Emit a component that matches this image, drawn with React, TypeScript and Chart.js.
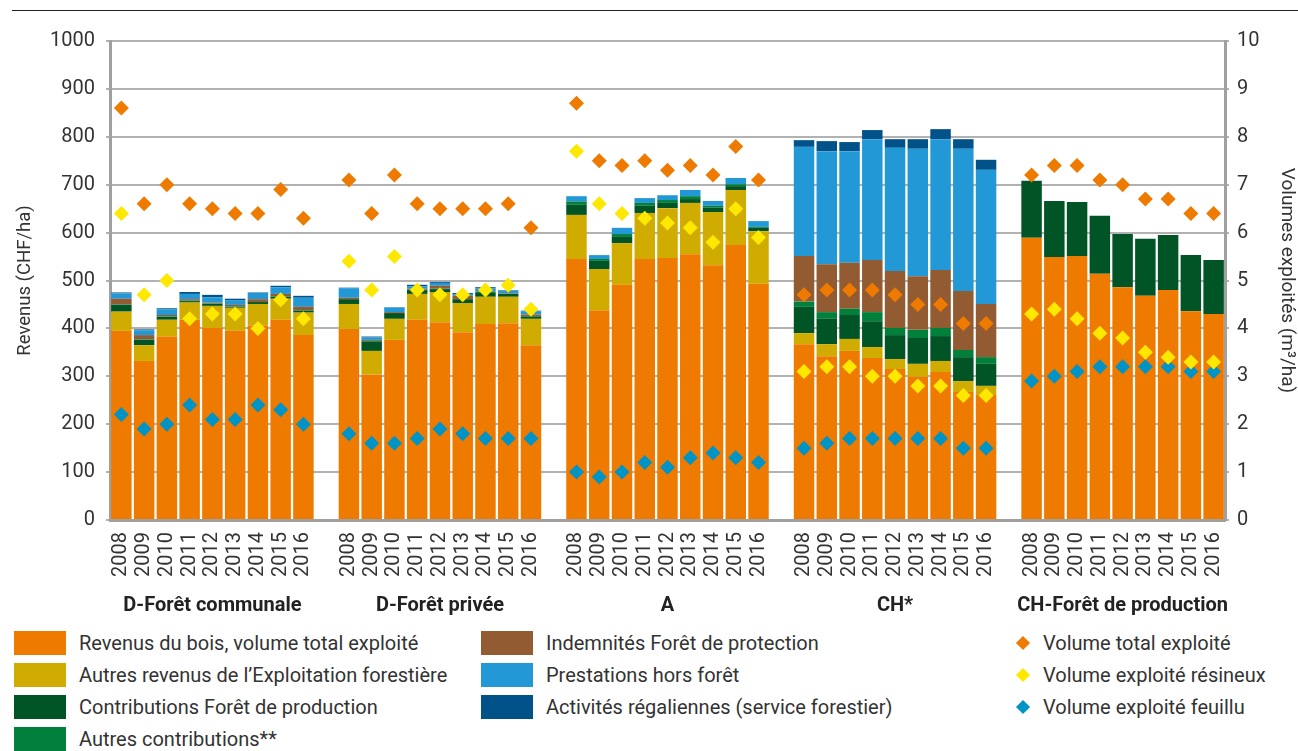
import React, { useEffect, useRef } from 'react';
import { Chart, registerables } from 'chart.js';
Chart.register(...registerables);

const groups = ['D-Forêt communale', 'D-Forêt privée', 'A', 'CH*', 'CH-Forêt de production'];
const years = ['2008', '2009', '2010', '2011', '2012', '2013', '2014', '2015', '2016'];

// Revenus (CHF/ha), 9 years per group, groups in order above
const woodRevenue = [
  395, 332, 383, 418, 401, 395, 406, 418, 386,
  399, 304, 376, 418, 413, 392, 409, 411, 365,
  545, 438, 491, 545, 547, 555, 532, 574, 493,
  367, 342, 353, 338, 315, 299, 309, 267, 261,
  589, 549, 551, 514, 486, 468, 480, 436, 430,
];
const otherRevenue = [
  40, 33, 35, 36, 46, 48, 45, 44, 47,
  52, 49, 44, 54, 63, 61, 57, 55, 55,
  92, 86, 87, 96, 104, 107, 111, 115, 110,
  23, 25, 25, 23, 21, 27, 23, 23, 19,
  0, 0, 0, 0, 0, 0, 0, 0, 0,
];
const productionContrib = [
  14, 11, 6, 3, 4, 2, 4, 4, 4,
  10, 19, 12, 8, 6, 8, 8, 6, 5,
  21, 17, 13, 15, 11, 8, 9, 8, 7,
  55, 53, 50, 54, 50, 54, 52, 50, 46,
  119, 117, 113, 121, 111, 119, 115, 117, 113,
];
const otherContrib = [
  1, 1, 1, 1, 1, 1, 0, 1, 1,
  0, 2, 0, 1, 1, 0, 2, 0, 1,
  7, 4, 6, 6, 6, 6, 4, 4, 2,
  11, 14, 13, 19, 15, 17, 17, 15, 14,
  0, 0, 0, 0, 0, 0, 0, 0, 0,
];
const protectionComp = [
  12, 9, 3, 3, 2, 3, 6, 5, 7,
  3, 2, 2, 2, 6, 7, 1, 1, 3,
  0, 0, 0, 0, 0, 0, 0, 0, 0,
  95, 100, 96, 109, 119, 112, 121, 123, 111,
  0, 0, 0, 0, 0, 0, 0, 0, 0,
];
const outsideServices = [
  11, 10, 12, 11, 11, 10, 13, 14, 19,
  20, 5, 9, 5, 6, 4, 7, 6, 7,
  11, 8, 13, 10, 10, 13, 10, 13, 12,
  228, 236, 233, 252, 257, 266, 273, 297, 280,
  0, 0, 0, 0, 0, 0, 0, 0, 0,
];
const sovereignActivities = [
  2, 2, 2, 4, 5, 3, 1, 3, 4,
  1, 2, 1, 3, 2, 2, 2, 1, 1,
  0, 0, 0, 0, 0, 0, 0, 0, 0,
  14, 21, 19, 19, 18, 20, 21, 20, 21,
  0, 0, 0, 0, 0, 0, 0, 0, 0,
];

// Volumes exploités (m3/ha)
const totalVolume = [
  8.6, 6.6, 7.0, 6.6, 6.5, 6.4, 6.4, 6.9, 6.3,
  7.1, 6.4, 7.2, 6.6, 6.5, 6.5, 6.5, 6.6, 6.1,
  8.7, 7.5, 7.4, 7.5, 7.3, 7.4, 7.2, 7.8, 7.1,
  4.7, 4.8, 4.8, 4.8, 4.7, 4.5, 4.5, 4.1, 4.1,
  7.2, 7.4, 7.4, 7.1, 7.0, 6.7, 6.7, 6.4, 6.4,
];
const softwoodVolume = [
  6.4, 4.7, 5.0, 4.2, 4.3, 4.3, 4.0, 4.6, 4.2,
  5.4, 4.8, 5.5, 4.8, 4.7, 4.7, 4.8, 4.9, 4.4,
  7.7, 6.6, 6.4, 6.3, 6.2, 6.1, 5.8, 6.5, 5.9,
  3.1, 3.2, 3.2, 3.0, 3.0, 2.8, 2.8, 2.6, 2.6,
  4.3, 4.4, 4.2, 3.9, 3.8, 3.5, 3.4, 3.3, 3.3,
];
const hardwoodVolume = [
  2.2, 1.9, 2.0, 2.4, 2.1, 2.1, 2.4, 2.3, 2.0,
  1.8, 1.6, 1.6, 1.7, 1.9, 1.8, 1.7, 1.7, 1.7,
  1.0, 0.9, 1.0, 1.2, 1.1, 1.3, 1.4, 1.3, 1.2,
  1.5, 1.6, 1.7, 1.7, 1.7, 1.7, 1.7, 1.5, 1.5,
  2.9, 3.0, 3.1, 3.2, 3.2, 3.2, 3.2, 3.1, 3.1,
];

const FONT = 'Roboto, "Noto Sans", sans-serif';
const TEXT = '#333333';

const barSeries = [
  { label: 'Revenus du bois, volume total exploité', data: woodRevenue, color: '#EE7A00' },
  { label: 'Autres revenus de l’Exploitation forestière', data: otherRevenue, color: '#D1AC00' },
  { label: 'Contributions Forêt de production', data: productionContrib, color: '#005426' },
  { label: 'Autres contributions**', data: otherContrib, color: '#00803A' },
  { label: 'Indemnités Forêt de protection', data: protectionComp, color: '#935B32' },
  { label: 'Prestations hors forêt', data: outsideServices, color: '#2298D6' },
  { label: 'Activités régaliennes (service forestier)', data: sovereignActivities, color: '#005288' },
];
const pointSeries = [
  { label: 'Volume total exploité', data: totalVolume, color: '#EE7A00' },
  { label: 'Volume exploité résineux', data: softwoodVolume, color: '#FFE800' },
  { label: 'Volume exploité feuillu', data: hardwoodVolume, color: '#0093C5' },
];

// insert an empty category between groups
function withGaps<T>(arr: T[], gap: T): T[] {
  const out: T[] = [];
  groups.forEach((_, g) => {
    for (let i = 0; i < years.length; i++) out.push(arr[g * years.length + i]);
    if (g < groups.length - 1) out.push(gap);
  });
  return out;
}

const labels = withGaps(groups.flatMap(() => years), '');

const groupLabelPlugin = {
  id: 'groupLabels',
  afterDraw(chart: any) {
    const { ctx } = chart;
    const xs = chart.scales.x;
    ctx.save();
    ctx.font = `bold 20px ${FONT}`;
    ctx.fillStyle = '#222';
    ctx.textAlign = 'center';
    ctx.textBaseline = 'middle';
    groups.forEach((g, i) => {
      const idx = i * (years.length + 1) + (years.length - 1) / 2;
      ctx.fillText(g, xs.getPixelForValue(idx), 606);
    });
    ctx.restore();
  },
};

export default function App() {
  const ref = useRef<HTMLCanvasElement | null>(null);
  useEffect(() => {
    document.body.style.margin = '0';
    if (!ref.current) return;
    const datasets: any[] = [
      ...pointSeries.map((s) => ({
        type: 'line',
        label: s.label,
        data: withGaps(s.data as (number | null)[], null),
        yAxisID: 'y2',
        showLine: false,
        pointStyle: 'rectRot',
        pointRadius: 7.5,
        pointBorderWidth: 0,
        pointBackgroundColor: s.color,
        backgroundColor: s.color,
        borderColor: s.color,
        order: 1,
      })),
      ...barSeries.map((s) => ({
        type: 'bar',
        label: s.label,
        data: withGaps(s.data as (number | null)[], null),
        yAxisID: 'y',
        backgroundColor: s.color,
        borderWidth: 0,
        barPercentage: 0.9,
        categoryPercentage: 1,
        order: 2,
      })),
    ];
    const chart = new Chart(ref.current, {
      type: 'bar',
      data: { labels, datasets },
      plugins: [groupLabelPlugin],
      options: {
        animation: false,
        responsive: false,
        maintainAspectRatio: false,
        layout: { padding: { top: 41, left: 0, right: 0, bottom: 0 } },
        plugins: { legend: { display: false }, tooltip: { enabled: false } },
        scales: {
          x: {
            stacked: true,
            grid: { display: false },
            border: { display: true, color: '#a0a0a0', width: 3 },
            ticks: {
              autoSkip: false,
              minRotation: 90,
              maxRotation: 90,
              padding: 4,
              color: TEXT,
              font: { family: FONT, size: 20 },
            },
            afterFit: (s: any) => { s.height = 105; },
          },
          y: {
            stacked: true,
            min: 0,
            max: 1000,
            ticks: {
              stepSize: 100,
              color: TEXT,
              padding: 11,
              font: { family: FONT, size: 20 },
              callback: (v: any) => String(v),
            },
            grid: { color: '#b2b2b2', lineWidth: 2, tickLength: 4 },
            border: { color: '#a0a0a0', width: 3 },
            title: {
              display: true,
              text: 'Revenus (CHF/ha)',
              color: TEXT,
              font: { family: FONT, size: 18.5 },
              padding: { top: 14, bottom: 0 },
            },
            afterFit: (s: any) => { s.width = 110; },
          },
          y2: {
            position: 'right',
            min: 0,
            max: 10,
            ticks: {
              stepSize: 1,
              color: TEXT,
              padding: 8,
              font: { family: FONT, size: 20 },
              callback: (v: any) => String(v),
            },
            grid: { drawOnChartArea: false, color: '#b2b2b2', lineWidth: 2, tickLength: 4 },
            border: { color: '#a0a0a0', width: 3 },
            title: {
              display: true,
              text: 'Volumes exploités (m³/ha)',
              color: TEXT,
              font: { family: FONT, size: 19 },
              padding: { top: 0, bottom: 0 },
            },
            afterFit: (s: any) => { s.width = 73; },
          },
        },
      } as any,
    });
    return () => chart.destroy();
  }, []);

  const legendRow = (i: number) => 631 + i * 32;
  const swatch = (color: string) => (
    <span style={{ display: 'inline-block', width: 52, height: 24, background: color, marginRight: 13, flex: 'none' }} />
  );
  const diamond = (color: string) => (
    <span style={{ display: 'inline-block', width: 20, marginRight: 10, flex: 'none', position: 'relative', height: 24 }}>
      <span style={{ position: 'absolute', left: 5, top: 7, width: 10, height: 10, background: color, transform: 'rotate(45deg)' }} />
    </span>
  );
  const itemStyle = (left: number, top: number): React.CSSProperties => ({
    position: 'absolute', left, top, height: 24, display: 'flex', alignItems: 'center',
    fontFamily: FONT, fontSize: 20, color: TEXT, whiteSpace: 'nowrap',
  });

  const col1 = barSeries.slice(0, 4);
  const col2 = barSeries.slice(4);

  return (
    <div style={{ position: 'relative', width: 1298, height: 751, overflow: 'hidden', background: '#fff' }}>
      <div style={{ position: 'absolute', left: 12, top: 10, width: 1286, height: 1, background: '#222' }} />
      <canvas ref={ref} width={1298} height={625} style={{ position: 'absolute', left: 0, top: 0, width: 1298, height: 625 }} />
      {col1.map((s, i) => (
        <div key={s.label} style={itemStyle(14, legendRow(i))}>{swatch(s.color)}{s.label}</div>
      ))}
      {col2.map((s, i) => (
        <div key={s.label} style={itemStyle(481, legendRow(i))}>{swatch(s.color)}{s.label}</div>
      ))}
      {pointSeries.map((s, i) => (
        <div key={s.label} style={itemStyle(1013, legendRow(i))}>{diamond(s.color)}{s.label}</div>
      ))}
    </div>
  );
}
